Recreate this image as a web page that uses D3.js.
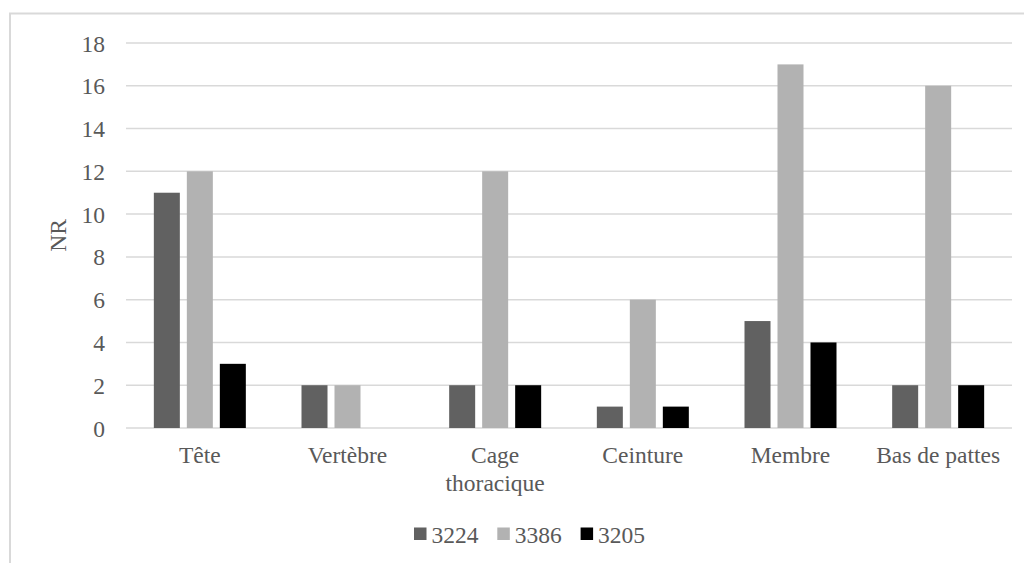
<!DOCTYPE html>
<html><head><meta charset="utf-8">
<script src="https://cdn.jsdelivr.net/npm/d3@7"></script>
<style>
html,body{margin:0;padding:0;background:#fff;}
svg{display:block;}
svg text{font-family:'Liberation Serif','Times New Roman',Times,'DejaVu Serif',serif !important;fill:#595959;}
</style></head>
<body>
<script>
const categories = ["Tête","Vertèbre","Cage thoracique","Ceinture","Membre","Bas de pattes"];
const seriesNames = ["3224","3386","3205"];
const values3224 = [11,2,2,1,5,2];
const values3386 = [12,2,12,6,17,16];
const values3205 = [3,0,2,1,4,2];
const colors = ["#616161","#b2b2b2","#000000"];
const yTicks = [0,2,4,6,8,10,12,14,16,18];
const yLabel = "NR";

const seriesValues = [values3224, values3386, values3205];
const W = 1024, H = 563;
const FONT = "'Liberation Serif','Times New Roman',Times,'DejaVu Serif',serif";
const svg = d3.select("body").append("svg").attr("width", W).attr("height", H)
  .attr("font-family", FONT);

// outer border
svg.append("rect").attr("x",10).attr("y",13.5).attr("width",1030).attr("height",600)
  .attr("fill","none").attr("stroke","#d9d9d9").attr("stroke-width",2);

const plot = {left:126, right:1012, top:43, bottom:428};
const y = d3.scaleLinear().domain([0,18]).range([plot.bottom, plot.top]);
const x0 = d3.scaleBand().domain(categories).range([plot.left, plot.right]).paddingInner(0).paddingOuter(0);
const groupW = x0.bandwidth()*0.623;
const x1 = d3.scaleBand().domain(seriesNames).range([0, groupW]).paddingInner(0.212).paddingOuter(0);

// gridlines
svg.append("g").selectAll("line").data(yTicks).join("line")
  .attr("x1",plot.left).attr("x2",plot.right)
  .attr("y1",d=>y(d)).attr("y2",d=>y(d))
  .attr("stroke","#d9d9d9").attr("stroke-width",1.5);

// y axis labels
const yAxis = d3.axisLeft(y).tickValues(yTicks).tickSize(0).tickPadding(0);
const ya = svg.append("g").attr("transform","translate(105,0)").call(yAxis);
ya.attr("font-family", FONT);
ya.select(".domain").remove();
ya.selectAll("text").attr("font-size",23.5).attr("fill","#595959").attr("dy","0.34em");

// bars
const groups = svg.append("g").selectAll("g").data(categories).join("g")
  .attr("transform", c => `translate(${x0(c) + (x0.bandwidth()-groupW)/2},0)`);
groups.selectAll("rect").data((c,i)=>seriesNames.map((s,j)=>({s, v:seriesValues[j][i], j})))
  .join("rect")
  .attr("x", d=>x1(d.s)).attr("width", x1.bandwidth())
  .attr("y", d=>y(d.v)).attr("height", d=>y(0)-y(d.v))
  .attr("fill", d=>colors[d.j]);

// x labels with wrap
const xl = svg.append("g");
categories.forEach(c=>{
  const cx = x0(c) + x0.bandwidth()/2;
  const t = xl.append("text").attr("x",cx).attr("y",463).attr("text-anchor","middle")
    .attr("font-size",23.5);
  const words = c.split(" ");
  let line = [];
  let ts = t.append("tspan").attr("x",cx).attr("dy",0);
  words.forEach(w=>{
    line.push(w);
    ts.text(line.join(" "));
    if (ts.node().getComputedTextLength() > 135 && line.length>1){
      line.pop(); ts.text(line.join(" "));
      line=[w];
      ts = t.append("tspan").attr("x",cx).attr("dy",27.5).text(w);
    }
  });
});

// y label
svg.append("text").attr("transform","translate(66,235.5) rotate(-90)")
  .attr("text-anchor","middle").attr("font-size",23.5).text(yLabel);

// legend
const lg = svg.append("g");
seriesNames.forEach((s,i)=>{
  const lx = 414 + i*83.3;
  lg.append("rect").attr("x",lx).attr("y",527.5).attr("width",12.5).attr("height",12.5).attr("fill",colors[i]);
  lg.append("text").attr("x",lx+17.5).attr("y",542.5).attr("font-size",23.5).text(s);
});
</script>
</body></html>
